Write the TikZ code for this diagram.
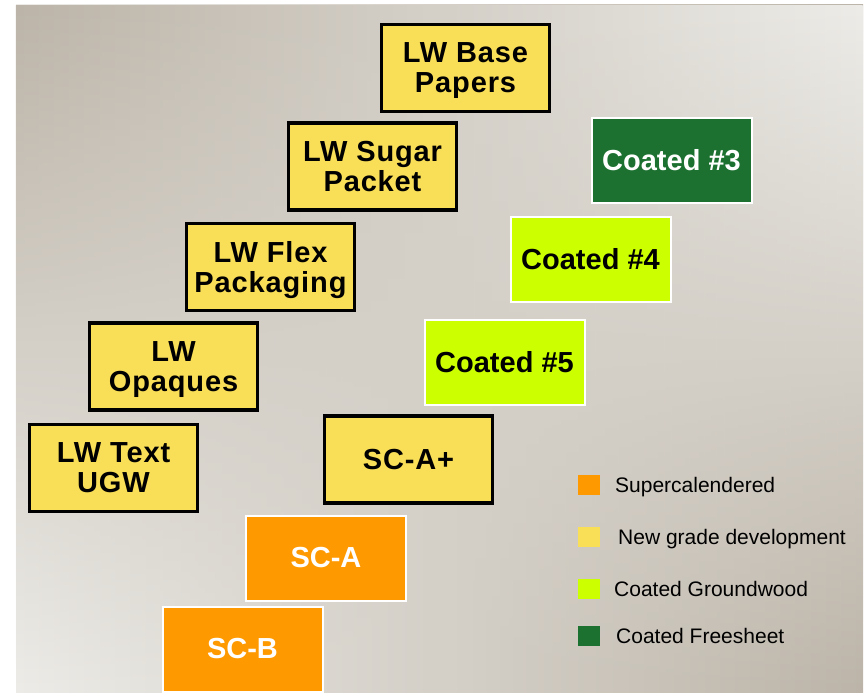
\documentclass[tikz,border=0pt]{standalone}
\usepackage{fontspec}
\setmainfont{Liberation Sans}
\newfontfamily\gradefont[LetterSpace=3]{Liberation Sans}
\usetikzlibrary{fadings}

\definecolor{bgdark}{HTML}{BCB4A8}
\definecolor{bglight}{HTML}{EDECE8}
\definecolor{newgrade}{HTML}{F9DE58}
\definecolor{supercal}{HTML}{FF9900}
\definecolor{groundwood}{HTML}{CCFF00}
\definecolor{freesheet}{HTML}{1C7131}

\begin{document}
\begin{tikzpicture}[x=1pt,y=-1pt]
        \tikzset{grade/.style = {shape=rectangle,draw=black,line width=3.5pt,fill=newgrade,
            minimum width=168pt,minimum height=87pt,inner sep=0pt,align=center,text depth=0pt,
            font=\gradefont\fontsize{29}{30}\selectfont\bfseries}}
        \tikzset{coated/.style = {shape=rectangle,draw=white,line width=2pt,
            minimum width=160pt,minimum height=85pt,inner sep=0pt,
            font=\fontsize{29}{30}\selectfont\bfseries}}
        \tikzset{key/.style = {shape=rectangle,minimum width=22pt,minimum height=20pt,inner sep=0pt}}
        \tikzset{keytext/.style = {anchor=base west,inner sep=0pt,font=\fontsize{21}{24}\selectfont}}

        % background
        \useasboundingbox (0,0) rectangle (865,693);
        \shade[left color=bglight,right color=bgdark] (16,5) rectangle (863,693);
        \shade[left color=bgdark,right color=bglight,path fading=south] (16,5) rectangle (863,693);

        % LW grades
        \node[grade] (base) at (465.5,68) {LW Base\\Papers};
        \node[grade] (sugar) at (372.5,166.5) {LW Sugar\\Packet};
        \node[grade] (flex) at (270.5,267) {LW Flex\\Packaging};
        \node[grade] (opaques) at (173.5,366.5) {LW\\Opaques};
        \node[grade] (ugw) at (113.5,468) {LW Text\\UGW};
        \node[grade] (scaplus) at (408.5,459.5) {SC-A+};

        % coated and SC grades
        \node[coated,fill=freesheet,text=white] (c3) at (671.5,160.5) {Coated \#3};
        \node[coated,fill=groundwood] (c4) at (590.5,259.5) {Coated \#4};
        \node[coated,fill=groundwood] (c5) at (504.5,362.5) {Coated \#5};
        \node[coated,fill=supercal,text=white] (sca) at (326,558) {SC-A};
        \node[coated,fill=supercal,text=white] (scb) at (242.5,649) {SC-B};

        % legend
        \foreach \col/\txt/\tx/\y [count=\i] in {supercal/Supercalendered/615/485,
                newgrade/New grade development/618/537,
                groundwood/Coated Groundwood/614/589,
                freesheet/Coated Freesheet/616/636}
        {
            \node[key,fill=\col] (key\i) at (589,\y) {};
            \node[keytext] (keytext\i) at (\tx,\y+7) {\txt};
        }

    \end{tikzpicture}
\end{document}
